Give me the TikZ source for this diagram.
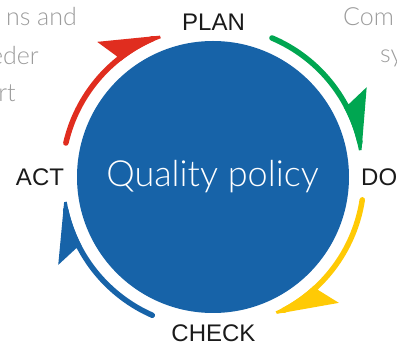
\documentclass[tikz,border=0pt]{standalone}
\usepackage{fontspec}
\setmainfont{Liberation Sans}
\newfontfamily\lightfont{Lato Light}
\definecolor{qblue}{HTML}{1763A8}
\definecolor{qred}{HTML}{E02D1F}
\definecolor{qgreen}{HTML}{00A651}
\definecolor{qyellow}{HTML}{FFCA05}
\definecolor{qgray}{HTML}{9C9C9C}
\definecolor{qtext}{HTML}{1A1A1A}
\tikzset{
  phase/.style={font=\fontsize{24}{28}\selectfont, text=qtext, inner sep=0pt},
  side/.style={font=\lightfont\fontsize{25}{30}\selectfont, text=qgray, inner sep=0pt},
}
\newcommand{\pdcaarc}[3]{%
  \draw[line width=5.5pt, #1, line cap=round]
    ([shift={(#2:151)}]c) arc[start angle=#2, end angle={#3+3}, radius=151];
  \fill[#1] ([shift={(#3:151)}]c) -- ([shift={(#3+20:178)}]c) -- ([shift={(#3+18:155)}]c)
    -- ([shift={(#3+18:148.3)}]c) arc[start angle={#3+18}, end angle=#3, radius=148.3] -- cycle;
}
\begin{document}
\begin{tikzpicture}[x=1pt,y=1pt]
\useasboundingbox (0,0) rectangle (397,348);
\clip (0,0) rectangle (397,348);
\coordinate (c) at (213,171);
\fill[qblue] (c) circle[radius=136];
\node[font=\lightfont\fontsize{36}{40}\selectfont, text=white, anchor=base, inner sep=0pt] (q) at (212.5,161) {Quality policy};
\pdcaarc{qred}{167}{110.6}
\pdcaarc{qgreen}{67}{10.3}
\pdcaarc{qyellow}{-8.7}{-65}
\pdcaarc{qblue}{-113.7}{-170.4}
\node[phase, anchor=base] (plan) at (213.5,317) {PLAN};
\node[phase, anchor=base] (act) at (40,162) {ACT};
\node[phase, anchor=base west] (do) at (361,162) {DO};
\node[phase, anchor=base] (check) at (213.5,6) {CHECK};
\node[side, anchor=base east] (l1) at (77,322) {ns and};
\node[side, anchor=base east] (l2) at (39,283) {eder};
\node[side, anchor=base east] (l3) at (16,246) {rt};
\node[side, anchor=base west] (r1) at (343,322) {Com};
\node[side, anchor=base west] (r2) at (380,285) {sy};
\end{tikzpicture}
\end{document}
